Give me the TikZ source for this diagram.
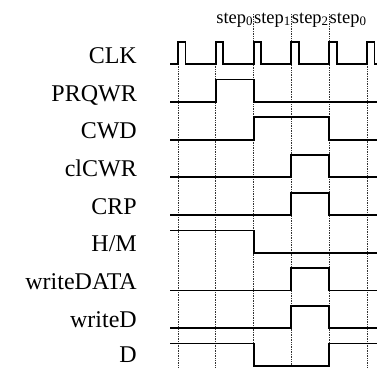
\documentclass[tikz,border=0pt]{standalone}
\usepackage{fontspec}
\setmainfont{Liberation Serif}
\usetikzlibrary{positioning}

\begin{document}
\begin{tikzpicture}[
  x=1pt, y=-1pt,
  every node/.style={inner sep=0pt},
  signame/.style={anchor=base east, font=\fontsize{24}{28}\selectfont},
  steplabel/.style={anchor=base, font=\fontsize{18.5}{22}\selectfont},
  wave/.style={line width=1.9pt, line join=miter},
  tick/.style={densely dotted, line width=0.7pt, draw=black!80},
]
\useasboundingbox (0,0) rectangle (377,367);

% Dotted step lines
\foreach \x in {178,215.8,367}
  \draw[tick] (\x,64) -- (\x,367);
\foreach \x in {253.6,291.4,329.2}
  \draw[tick] (\x,14) -- (\x,367);

% Step labels
\node[steplabel] (st0) at (234.7,23) {step\textsubscript{0}};
\node[steplabel] (st1) at (272.5,23) {step\textsubscript{1}};
\node[steplabel] (st2) at (310.3,23) {step\textsubscript{2}};
\node[steplabel] (st3) at (348.1,23) {step\textsubscript{0}};

% Signal names
\node[signame] (clk)   at (137,63.5)  {CLK};
\node[signame] (prqwr) at (137,101)   {PRQWR};
\node[signame] (cwd)   at (137,138.7) {CWD};
\node[signame] (clcwr) at (137,176.4) {clCWR};
\node[signame] (crp)   at (137,214.1) {CRP};
\node[signame] (hm)    at (137,251.8) {H/M};
\node[signame] (wdata) at (137,289.5) {writeDATA};
\node[signame] (wd)    at (137,327.2) {writeD};
\node[signame] (d)     at (137,362.5) {D};

% Clock
\draw[wave] (170,64.3)
  foreach \x in {178,215.8,253.6,291.4,329.2,367}
    { -- (\x,64.3) -- (\x,42) -- (\x+7.5,42) -- (\x+7.5,64.3) }
  -- (377,64.3);

% PRQWR
\draw[wave] (170,102) -- (215.8,102) -- (215.8,79.5) -- (253.6,79.5)
  -- (253.6,102) -- (377,102);

% CWD
\draw[wave] (170,139.7) -- (253.6,139.7) -- (253.6,117.2) -- (329.2,117.2)
  -- (329.2,139.7) -- (377,139.7);

% clCWR
\draw[wave] (170,177.4) -- (291.4,177.4) -- (291.4,155) -- (329.2,155)
  -- (329.2,177.4) -- (377,177.4);

% CRP
\draw[wave] (170,215.1) -- (291.4,215.1) -- (291.4,192.6) -- (329.2,192.6)
  -- (329.2,215.1) -- (377,215.1);

% H/M
\draw[wave] (170,230.5) -- (253.6,230.5) -- (253.6,252.8) -- (377,252.8);

% writeDATA
\draw[wave] (170,290.5) -- (291.4,290.5) -- (291.4,268) -- (329.2,268)
  -- (329.2,290.5) -- (377,290.5);

% writeD
\draw[wave] (170,328.2) -- (291.4,328.2) -- (291.4,305.7) -- (329.2,305.7)
  -- (329.2,328.2) -- (377,328.2);

% D
\draw[wave] (170,343.5) -- (253.6,343.5) -- (253.6,365.6) -- (329.2,365.6)
  -- (329.2,343.5) -- (377,343.5);

\end{tikzpicture}
\end{document}
